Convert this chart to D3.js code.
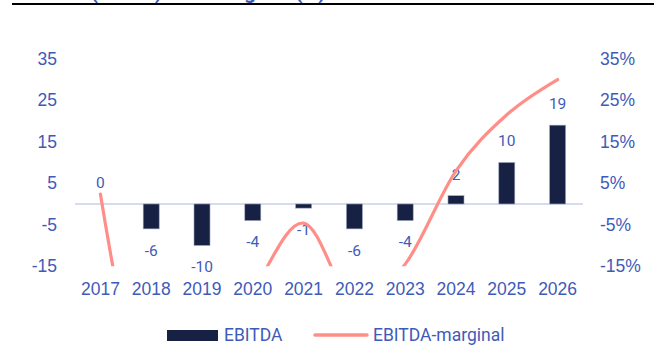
<!DOCTYPE html>
<meta charset='utf-8'>
<style>
body { margin: 0; background: #fff; }
svg { display: block; font-family: Roboto, sans-serif; }
.axis text, .lbl, .legend text { fill: #3f5bb8; }
</style>
<svg width="654" height="345"></svg>
<script src="https://cdn.jsdelivr.net/npm/d3@7"></script>
<script>

const years = ['2017', '2018', '2019', '2020', '2021', '2022', '2023', '2024', '2025', '2026'];
const ebitda = [0, -6, -10, -4, -1, -6, -4, 2, 10, 19];
// margin in %, values far below -15 are clipped in the picture, so estimated
const margin = [2.4, -55, -40, -21, -4.6, -24, -14.5, 8, 21.5, 30];
const leftTicks = [-15, -5, 5, 15, 25, 35];
const rightTicks = [-15, -5, 5, 15, 25, 35];

const blue = '#3f5bb8';
const navy = '#172144';
const salmon = '#ff8e89';

const svg = d3.select('svg');

// title, cut off at the top of the picture
svg.append('text')
  .attr('x', 14)
  .attr('y', -1)
  .style('font-size', '21px')
  .style('font-weight', 'bold')
  .attr('fill', blue)
  .text('EBITDA (MSEK) och marginal (%)');

svg.append('line')
  .attr('x1', 12).attr('x2', 654)
  .attr('y1', 4).attr('y2', 4)
  .attr('stroke', '#000')
  .attr('stroke-width', 2.2);

const x = d3.scaleBand()
  .domain(years)
  .range([75, 583]);

const y = d3.scaleLinear()
  .domain([-15, 35])
  .range([266.2, 58.8]);

const cx = d => x(d) + x.bandwidth() / 2;
const barW = x.bandwidth() * 0.315;

// left axis
svg.append('g')
  .attr('class', 'axis')
  .attr('transform', 'translate(63,0)')
  .call(d3.axisLeft(y).tickValues(leftTicks).tickSize(0).tickPadding(6)
    .tickFormat(d => String(d)))
  .call(g => g.select('.domain').remove())
  .selectAll('text')
    .style('font-size', '17.5px');

// right axis
svg.append('g')
  .attr('class', 'axis')
  .attr('transform', 'translate(594,0)')
  .call(d3.axisRight(y).tickValues(rightTicks).tickSize(0).tickPadding(6)
    .tickFormat(d => d + '%'))
  .call(g => g.select('.domain').remove())
  .selectAll('text')
    .style('font-size', '17.5px');

// year labels
svg.append('g')
  .attr('class', 'axis')
  .attr('transform', 'translate(0,277)')
  .call(d3.axisBottom(x).tickSize(0).tickPadding(0))
  .call(g => g.select('.domain').remove())
  .selectAll('text')
    .style('font-size', '17.5px')
    .attr('dy', '1.0em');

// zero line
svg.append('line')
  .attr('x1', 75).attr('x2', 583)
  .attr('y1', y(0)).attr('y2', y(0))
  .attr('stroke', '#c8cfee')
  .attr('stroke-width', 1.5);

// bars
svg.append('g')
  .selectAll('rect')
  .data(ebitda)
  .join('rect')
    .attr('x', (d, i) => cx(years[i]) - barW / 2)
    .attr('y', d => y(Math.max(0, d)))
    .attr('width', barW)
    .attr('height', d => Math.abs(y(d) - y(0)))
    .attr('fill', navy)
    .attr('stroke', '#9aa3bf')
    .attr('stroke-width', 0.6);

// bar labels
svg.append('g')
  .selectAll('text')
  .data(ebitda)
  .join('text')
    .attr('class', 'lbl')
    .attr('x', (d, i) => cx(years[i]))
    .attr('y', d => d >= 0 ? y(d) - 21.5 : y(d) + 21.5)
    .attr('dy', '0.35em')
    .attr('text-anchor', 'middle')
    .style('font-size', '15.5px')
    .text(d => d);

// margin line, clipped to the plot area
svg.append('clipPath')
  .attr('id', 'plot')
  .append('rect')
    .attr('x', 75).attr('y', y(35))
    .attr('width', 508).attr('height', y(-15) - y(35));

const line = d3.line()
  .x((d, i) => cx(years[i]))
  .y(d => y(d))
  .curve(d3.curveCardinal.tension(0));

svg.append('path')
  .datum(margin)
  .attr('clip-path', 'url(#plot)')
  .attr('d', line)
  .attr('fill', 'none')
  .attr('stroke', salmon)
  .attr('stroke-width', 3.2)
  .attr('stroke-linecap', 'round');

// legend
const legend = svg.append('g').attr('class', 'legend');
legend.append('rect')
  .attr('x', 167).attr('y', 330)
  .attr('width', 51).attr('height', 11)
  .attr('fill', navy);
legend.append('text')
  .attr('x', 224).attr('y', 341)
  .style('font-size', '17.5px')
  .text('EBITDA');
legend.append('line')
  .attr('x1', 315).attr('x2', 367)
  .attr('y1', 335).attr('y2', 335)
  .attr('stroke', salmon)
  .attr('stroke-width', 3.5)
  .attr('stroke-linecap', 'round');
legend.append('text')
  .attr('x', 373).attr('y', 341)
  .style('font-size', '17.5px')
  .text('EBITDA-marginal');

</script>
